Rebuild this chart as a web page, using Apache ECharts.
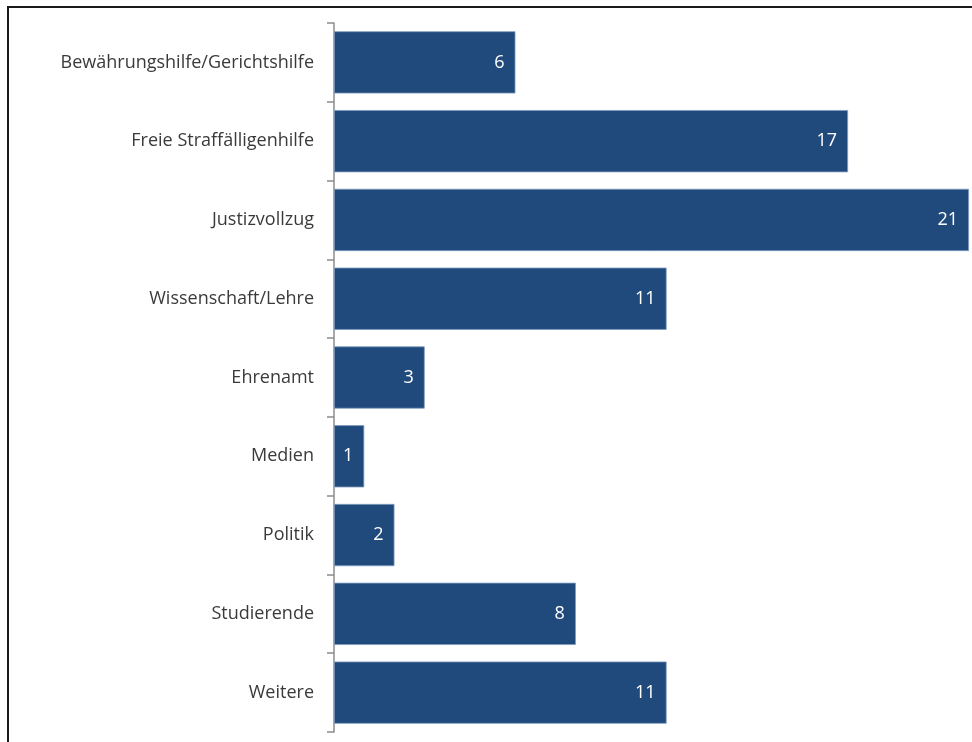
<!DOCTYPE html>
<html><head><meta charset="utf-8">
<script src="https://cdn.jsdelivr.net/npm/echarts@6/dist/echarts.min.js"></script>
<style>
html,body{margin:0;padding:0;background:#fff;}
#c{width:972px;height:742px;position:absolute;left:0;top:0;}
#frame{position:absolute;left:7px;top:6px;width:990px;height:760px;border-top:2px solid #1a1a1a;border-left:2px solid #1a1a1a;pointer-events:none;}
</style></head>
<body>
<div id="c"></div><div id="frame"></div>
<script>
const categories = ["Bewährungshilfe/Gerichtshilfe","Freie Straffälligenhilfe","Justizvollzug","Wissenschaft/Lehre","Ehrenamt","Medien","Politik","Studierende","Weitere"];
const values = [6,17,21,11,3,1,2,8,11];

const chart = echarts.init(document.getElementById('c'), null, {renderer:'canvas'});
chart.setOption({
  animation:false,
  grid:{left:334,right:3,top:23,bottom:10,containLabel:false},
  xAxis:{type:'value',min:0,max:21,show:false},
  yAxis:{type:'category',data:categories,inverse:true,
    axisLine:{lineStyle:{color:'#8c8c8c',width:1.5}},
    axisTick:{show:true,length:7,lineStyle:{color:'#8c8c8c',width:1.5}},
    axisLabel:{color:'#3a3a3a',fontSize:18,fontFamily:'Open Sans',margin:20}},
  series:[{type:'bar',data:values,barCategoryGap:'21%',
    itemStyle:{color:'#204a7c',borderColor:'#7f9cc0',borderWidth:0.8},
    label:{show:true,position:'insideRight',distance:11,color:'#fff',fontSize:18,fontFamily:'Open Sans'}}]
});
</script>
</body></html>
